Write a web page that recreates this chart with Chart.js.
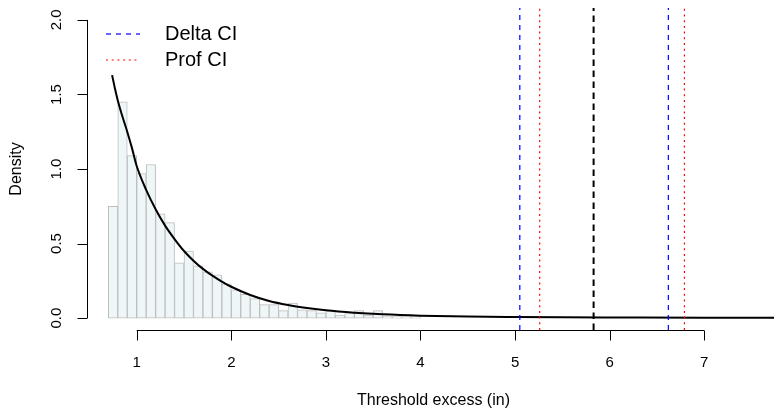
<!DOCTYPE html>
<html lang="en">
<head>
<meta charset="UTF-8">
<script src="https://cdn.jsdelivr.net/npm/chart.js"></script>
<title>Threshold excess density</title>
<style>
    html, body { margin: 0; padding: 0; background: #ffffff; }
</style>
</head>
<body>
<canvas id="excessChart" width="774" height="411"></canvas>
<script>
    // histogram: left edges of the bins (width 0.1) and their densities
    const binStarts = [0.7, 0.8, 0.9, 1.0, 1.1, 1.2, 1.3, 1.4, 1.5, 1.6, 1.7, 1.8, 1.9, 2.0, 2.1,
        2.2, 2.3, 2.4, 2.5, 2.6, 2.7, 2.8, 2.9, 3.0, 3.1, 3.2, 3.3, 3.4, 3.5, 3.6, 3.7, 3.8, 3.9];
    const binWidth = 0.1;
    const density = [0.75, 1.45, 1.09, 0.97, 1.03, 0.70, 0.64, 0.37, 0.45, 0.35, 0.31, 0.29, 0.23, 0.19, 0.16,
        0.13, 0.09, 0.09, 0.05, 0.10, 0.055, 0.05, 0.035, 0.05, 0.02, 0.035, 0.05, 0.02, 0.05, 0.01, 0.01, 0.01, 0.01];

    // fitted density curve
    const curveX = [0.74, 0.77, 0.8, 0.85, 0.9, 0.95, 1.0, 1.1, 1.2, 1.3, 1.4, 1.5, 1.6, 1.7, 1.8, 1.9,
        2.0, 2.2, 2.4, 2.6, 2.8, 3.0, 3.3, 3.6, 4.0, 4.5, 5.0, 5.5, 6.0, 7.0, 7.8];
    const curveY = [1.63, 1.54, 1.46, 1.35, 1.25, 1.14, 1.02, 0.86, 0.73, 0.62, 0.53, 0.45, 0.385, 0.33, 0.285, 0.245,
        0.21, 0.155, 0.115, 0.088, 0.068, 0.052, 0.036, 0.025, 0.016, 0.01, 0.007, 0.005, 0.004, 0.002, 0.0015];

    // confidence intervals and estimate
    const deltaCI = [5.05, 6.62];
    const profCI = [5.26, 6.79];
    const estimate = 5.83;

    // axes
    const xTicks = [1, 2, 3, 4, 5, 6, 7];
    const yTicks = [0, 0.5, 1, 1.5, 2];
    const yTickLabels = ['0.0', '0.5', '1.0', '1.5', '2.0'];
    const xRange = [0.4746, 7.737];
    const yRange = [-0.08, 2.08];

    const FONT = '"Liberation Sans", Arial, Helvetica, sans-serif';

    // vertical line dataset from top to bottom of the plot region
    function vline(v, color, dash, width, label) {
        return {
            type: 'line',
            label: label,
            data: [{ x: v, y: yRange[0] }, { x: v, y: yRange[1] }],
            borderColor: color,
            borderDash: dash,
            borderWidth: width,
            pointRadius: 0,
            fill: false
        };
    }

    // R style axes drawn from the chart scales
    const rAxes = {
        id: 'rAxes',
        afterDraw(chart) {
            const ctx = chart.ctx;
            const a = chart.chartArea;
            const x = chart.scales.x;
            const y = chart.scales.y;
            ctx.save();
            ctx.strokeStyle = '#000000';
            ctx.fillStyle = '#000000';
            ctx.lineWidth = 1;
            ctx.setLineDash([]);

            // x axis
            const yb = Math.round(a.bottom) + 0.5;
            ctx.beginPath();
            ctx.moveTo(x.getPixelForValue(xTicks[0]), yb);
            ctx.lineTo(x.getPixelForValue(xTicks[xTicks.length - 1]), yb);
            xTicks.forEach(t => {
                const px = Math.round(x.getPixelForValue(t)) + 0.5;
                ctx.moveTo(px, yb);
                ctx.lineTo(px, yb + 10);
            });
            ctx.stroke();
            ctx.font = '15px ' + FONT;
            ctx.textAlign = 'center';
            ctx.textBaseline = 'middle';
            xTicks.forEach(t => ctx.fillText(String(t), x.getPixelForValue(t), yb + 32));

            // y axis
            const xl = Math.round(a.left) + 0.5;
            ctx.beginPath();
            ctx.moveTo(xl, y.getPixelForValue(yTicks[0]));
            ctx.lineTo(xl, y.getPixelForValue(yTicks[yTicks.length - 1]));
            yTicks.forEach(t => {
                const py = Math.round(y.getPixelForValue(t)) + 0.5;
                ctx.moveTo(xl, py);
                ctx.lineTo(xl - 10, py);
            });
            ctx.stroke();
            yTicks.forEach((t, i) => {
                ctx.save();
                ctx.translate(xl - 31, y.getPixelForValue(t));
                ctx.rotate(-Math.PI / 2);
                ctx.fillText(yTickLabels[i], 0, 0);
                ctx.restore();
            });

            // axis titles
            ctx.font = '16px ' + FONT;
            ctx.fillText('Threshold excess (in)', (a.left + a.right) / 2 + 3, 401);
            ctx.save();
            ctx.translate(17, (a.top + a.bottom) / 2);
            ctx.rotate(-Math.PI / 2);
            ctx.fillText('Density', 0, 0);
            ctx.restore();

            // legend (top left, no box)
            const items = chart.data.datasets.filter(d => d.showInLegend);
            ctx.font = '20px ' + FONT;
            ctx.textAlign = 'left';
            items.forEach((d, i) => {
                const ly = 34 + i * 26;
                ctx.beginPath();
                ctx.strokeStyle = d.borderColor;
                ctx.lineWidth = d.borderWidth;
                ctx.setLineDash(d.borderDash);
                ctx.moveTo(106, ly);
                ctx.lineTo(140, ly);
                ctx.stroke();
                ctx.fillText(d.label, 165, ly);
            });
            ctx.restore();
        }
    };

    const datasets = [
        {
            type: 'bar',
            label: 'Histogram',
            data: binStarts.map((b, i) => ({ x: b + binWidth / 2, y: density[i] })),
            backgroundColor: '#EEF6F8',
            borderColor: '#BEBEBE',
            borderWidth: 1,
            borderSkipped: false,
            barPercentage: 1,
            categoryPercentage: 1,
            order: 5
        },
        {
            type: 'line',
            label: 'Density',
            data: curveX.map((v, i) => ({ x: v, y: curveY[i] })),
            borderColor: '#000000',
            borderWidth: 2,
            pointRadius: 0,
            cubicInterpolationMode: 'monotone',
            fill: false,
            order: 4
        }
    ];
    const dBlue = vline(deltaCI[0], '#0000FF', [5, 5], 1.2, 'Delta CI');
    dBlue.showInLegend = true;
    const dRed = vline(profCI[0], '#FF0000', [2, 3.7], 1.2, 'Prof CI');
    dRed.showInLegend = true;
    datasets.push(dBlue, dRed,
        vline(deltaCI[1], '#0000FF', [5, 5], 1.2, 'Delta CI upper'),
        vline(profCI[1], '#FF0000', [2, 3.7], 1.2, 'Prof CI upper'),
        vline(estimate, '#000000', [6.5, 4.5], 2, 'Estimate'));

    const ctx = document.getElementById('excessChart').getContext('2d');
    new Chart(ctx, {
        data: { datasets: datasets },
        options: {
            responsive: false,
            animation: false,
            devicePixelRatio: 1,
            layout: { padding: { left: 87, right: 0, top: 8, bottom: 81 } },
            plugins: {
                legend: { display: false },
                tooltip: { enabled: false }
            },
            scales: {
                x: {
                    type: 'linear',
                    display: false,
                    offset: false,
                    min: xRange[0],
                    max: xRange[1],
                    ticks: { stepSize: 1 }
                },
                y: {
                    type: 'linear',
                    display: false,
                    min: yRange[0],
                    max: yRange[1]
                }
            }
        },
        plugins: [rAxes]
    });
</script>
</body>
</html>
